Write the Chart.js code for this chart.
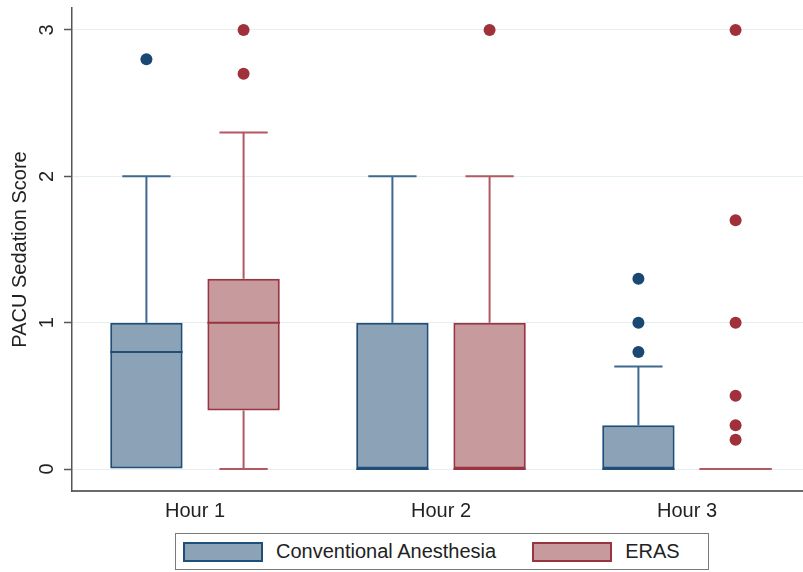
<!DOCTYPE html>
<html>
<head>
<meta charset="utf-8">
<script src="https://cdn.jsdelivr.net/npm/chart.js@4/dist/chart.umd.min.js"></script>
<style>
  body { margin: 0; background: #fff; overflow: hidden; width: 803px; height: 572px; position: relative;
         font-family: "Liberation Sans", Arial, sans-serif; }
  #c { position: absolute; left: 0; top: 0; }
  #legend { position: absolute; left: 175px; top: 533px; width: 532px; height: 35px;
            border: 1.5px solid #7a7a7a; display: flex; align-items: center; color: #222; font-size: 20px; }
  .sw { width: 76px; height: 16px; border: 2px solid; }
  .txt { margin-left: 13px; }
</style>
</head>
<body>
<canvas id="c" width="816" height="527"></canvas>
<div id="legend"></div>
<script>
const hours = ['Hour 1', 'Hour 2', 'Hour 3'];
const seriesNames = ['Conventional Anesthesia', 'ERAS'];
const yTicks = [0, 1, 2, 3];

// Conventional anesthesia
const convLow = [0, 0, 0];
const convQ1 = [0, 0, 0];
const convMedian = [0.8, 0, 0];
const convQ3 = [1, 1, 0.3];
const convHigh = [2, 2, 0.7];
const convOutliers = [[2.8], [], [0.8, 1, 1.3]];

// ERAS
const erasLow = [0, 0, 0];
const erasQ1 = [0.4, 0, 0];
const erasMedian = [1, 0, 0];
const erasQ3 = [1.3, 1, 0];
const erasHigh = [2.3, 2, 0];
const erasOutliers = [[2.7, 3], [3], [0.2, 0.3, 0.5, 1, 1.7, 3]];

const font = '"Liberation Sans", Arial, sans-serif';
const catPct = 0.79;

const boxes = [
  { low: convLow, q1: convQ1, med: convMedian, q3: convQ3, high: convHigh, out: convOutliers,
    line: '#1f4e79', fill: 'rgba(26,71,111,0.5)', whisker: '#3f6890', dot: '#1a4873', off: -catPct / 4 },
  { low: erasLow, q1: erasQ1, med: erasMedian, q3: erasQ3, high: erasHigh, out: erasOutliers,
    line: '#993540', fill: 'rgba(144,53,59,0.5)', whisker: '#b25862', dot: '#a0303a', off: catPct / 4 }
];

// legend in html
const legend = document.getElementById('legend');
boxes.forEach((b, i) => {
  let sw = document.createElement('div');
  sw.className = 'sw';
  sw.style.background = b.fill;
  sw.style.borderColor = b.line;
  sw.style.marginLeft = i == 0 ? '7px' : '36px';
  let t = document.createElement('span');
  t.className = 'txt';
  t.textContent = seriesNames[i];
  legend.append(sw, t);
});

const boxParts = {
  id: 'boxParts',
  afterDatasetsDraw(chart) {
    const y = chart.scales.y;
    const ctx = chart.ctx;
    boxes.forEach((b, i) => {
      chart.getDatasetMeta(i).data.forEach((bar, j) => {
        const half = bar.width / 2, cap = bar.width / 3;
        ctx.save();
        ctx.lineWidth = 2;
        ctx.strokeStyle = b.whisker;
        ctx.beginPath();
        if (b.high[j] > b.q3[j]) {
          ctx.moveTo(bar.x, y.getPixelForValue(b.q3[j]));
          ctx.lineTo(bar.x, y.getPixelForValue(b.high[j]));
          ctx.moveTo(bar.x - cap, y.getPixelForValue(b.high[j]));
          ctx.lineTo(bar.x + cap, y.getPixelForValue(b.high[j]));
        }
        if (b.low[j] < b.q1[j]) {
          ctx.moveTo(bar.x, y.getPixelForValue(b.q1[j]));
          ctx.lineTo(bar.x, y.getPixelForValue(b.low[j]));
          ctx.moveTo(bar.x - cap, y.getPixelForValue(b.low[j]));
          ctx.lineTo(bar.x + cap, y.getPixelForValue(b.low[j]));
        }
        ctx.stroke();
        // median
        ctx.strokeStyle = b.q1[j] == b.q3[j] ? b.whisker : b.line;
        ctx.beginPath();
        ctx.moveTo(bar.x - half, y.getPixelForValue(b.med[j]));
        ctx.lineTo(bar.x + half, y.getPixelForValue(b.med[j]));
        ctx.stroke();
        ctx.restore();
      });
    });
  },
  afterDraw(chart) {
    // rotated y tick labels
    const y = chart.scales.y;
    const ctx = chart.ctx;
    ctx.save();
    ctx.font = '20px ' + font;
    ctx.fillStyle = '#222';
    ctx.textAlign = 'center';
    ctx.textBaseline = 'middle';
    yTicks.forEach(v => {
      ctx.save();
      ctx.translate(46, y.getPixelForValue(v));
      ctx.rotate(-Math.PI / 2);
      ctx.fillText(String(v), 0, 1);
      ctx.restore();
    });
    ctx.restore();
  }
};

const datasets = [];
boxes.forEach((b, i) => {
  datasets.push({
    type: 'bar',
    label: seriesNames[i],
    data: b.q1.map((q, j) => ({ x: j, y: [q, b.q3[j]] })),
    backgroundColor: b.fill,
    borderColor: b.line,
    borderWidth: 2,
    borderSkipped: false,
    barPercentage: 0.745,
    categoryPercentage: catPct
  });
});
boxes.forEach((b, i) => {
  let pts = [];
  b.out.forEach((vals, j) => vals.forEach(v => pts.push({ x: j + b.off, y: v })));
  datasets.push({
    type: 'scatter',
    label: seriesNames[i] + ' outliers',
    data: pts,
    pointRadius: 6,
    pointBackgroundColor: b.dot,
    pointBorderWidth: 0
  });
});

new Chart(document.getElementById('c'), {
  type: 'bar',
  data: { datasets: datasets },
  options: {
    responsive: false,
    animation: false,
    layout: { padding: { top: 8, right: 0, left: 0, bottom: 0 } },
    plugins: { legend: { display: false }, tooltip: { enabled: false } },
    scales: {
      x: {
        type: 'linear',
        min: -0.5,
        max: 2.5,
        offset: false,
        afterBuildTicks(s) { s.ticks = hours.map((h, j) => ({ value: j })); },
        grid: { display: false, drawTicks: false, offset: false },
        border: { color: '#6b6b6b', width: 2 },
        ticks: { color: '#222', font: { size: 20, family: font }, padding: 8,
                 callback: v => hours[v] },
        afterFit(s) { s.height = 36; }
      },
      y: {
        min: -0.15,
        max: 3.15,
        afterBuildTicks(s) { s.ticks = yTicks.map(v => ({ value: v })); },
        grid: { color: '#e5eef0', lineWidth: 1, tickColor: '#555', tickLength: 8, tickWidth: 1.5 },
        border: { color: '#555', width: 1.5 },
        ticks: { display: false },
        title: { display: true, text: 'PACU Sedation Score', color: '#222',
                 font: { size: 20, family: font }, padding: { top: 8, bottom: 0 } },
        afterFit(s) { s.width = 72; }
      }
    }
  },
  plugins: [boxParts]
});
</script>
</body>
</html>
